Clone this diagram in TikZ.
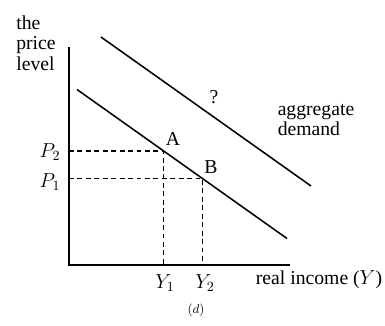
\documentclass[tikz,border=0pt]{standalone}
\usepackage{fontspec}
\setmainfont{Liberation Serif}
\usetikzlibrary{calc}
\begin{document}
\begin{tikzpicture}[
    x=0.025cm, y=-0.025cm,
    every node/.style={font=\fontsize{14}{14.5}\selectfont},
    axis/.style={line width=1.1pt},
    curve/.style={line width=1.1pt},
    guide/.style={line width=1pt, dash pattern=on 3.5pt off 2.5pt},
    lab/.style={align=left, inner sep=0pt}
]
    \useasboundingbox (0,0) rectangle (385,325);
    % axes
    \coordinate (O) at (69,265);
    \coordinate (ytop) at (69,47);
    \coordinate (xend) at (290,265);
    \draw[axis] (ytop) -- (O) -- (xend);
    % demand curves
    \coordinate (d1s) at (77,89.5);
    \coordinate (d1e) at (287,238.5);
    \coordinate (d2s) at (101,37);
    \coordinate (d2e) at (311,186);
    \draw[curve] (d1s) -- (d1e);
    \draw[curve] (d2s) -- (d2e);
    % points on the curve
    \coordinate (A) at ($(d1s)!0.412!(d1e)$);
    \coordinate (B) at ($(d1s)!0.5976!(d1e)$);
    \coordinate (p2) at (O |- A);
    \coordinate (p1) at (O |- B);
    \coordinate (y1) at (A |- O);
    \coordinate (y2) at (B |- O);
    % dashed guides
    \draw[guide] (p2) -- (A) -- (y1);
    \draw[guide] (p1) -- (B) -- (y2);
    % labels
    \node[lab] (ylab) at (36,43) {the\\price\\level};
    \node[lab] (xlab) at (319,280) {real income ($Y$)};
    \node[lab] (ad) at (316,120) {aggregate\\demand};
    \node[lab] (q) at (214,97) {?};
    \node[lab] (Alab) at (173,139) {A};
    \node[lab] (Blab) at (211,167) {B};
    \node[lab] (P2lab) at (50,152) {$P_2$};
    \node[lab] (P1lab) at (50,182) {$P_1$};
    \node[lab] (Y1lab) at (165,283) {$Y_1$};
    \node[lab] (Y2lab) at (205,283) {$Y_2$};
    \node[lab, font=\small] (cap) at (196,310) {$(d)$};
\end{tikzpicture}
\end{document}
